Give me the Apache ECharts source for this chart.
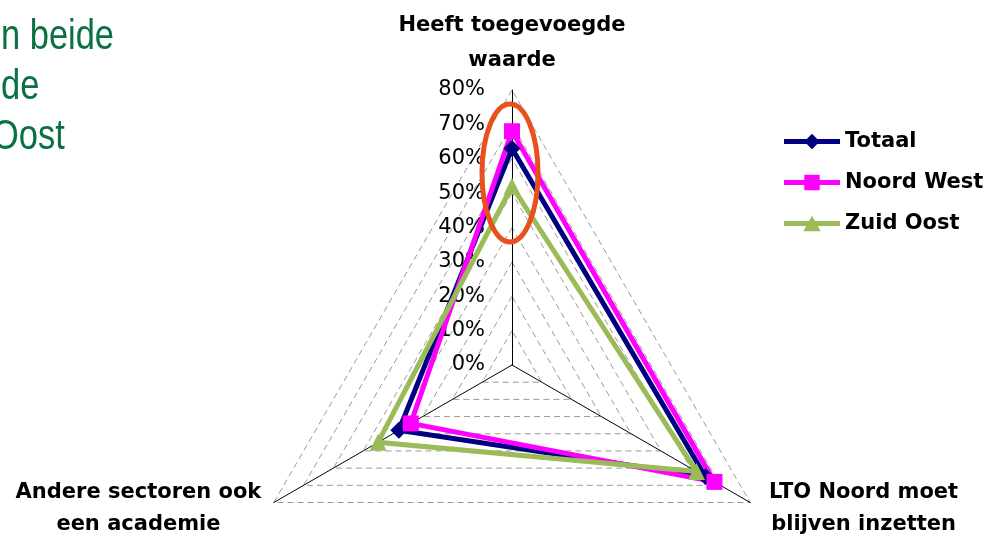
<!DOCTYPE html>
<html>
<head>
<meta charset="utf-8">
<script src="https://cdn.jsdelivr.net/npm/echarts@6/dist/echarts.min.js"></script>
<style>
  html, body { margin: 0; padding: 0; background: #fff; }
  #chart { width: 993px; height: 541px; }
</style>
</head>
<body>
<div id="chart"></div>
<script>
// assen (Excel gaat met de klok mee: boven, rechtsonder, linksonder -> ECharts tegen de klok in)
const indicators = [
  'Heeft toegevoegde\nwaarde',
  'Andere sectoren ook\neen academie',
  'LTO Noord moet\nblijven inzetten'
]
const seriesNames = ['Totaal', 'Noord West', 'Zuid Oost']
const totaal = [63, 38, 65]
const noordWest = [68, 34, 68]
const zuidOost = [52, 45, 62]
const tickMax = 80
const tickStep = 10
const titleLines = ['n beide', 'de', 'Oost']

const FONT = '"DejaVu Sans", Verdana, sans-serif'
const colors = { Totaal: '#000080', 'Noord West': '#FF00FF', 'Zuid Oost': '#9BBB59' }
const symbols = { Totaal: 'diamond', 'Noord West': 'rect', 'Zuid Oost': 'triangle' }
const values = { Totaal: totaal, 'Noord West': noordWest, 'Zuid Oost': zuidOost }

// legenda-icoon: lijn met marker, zoals Excel
const LINE = 'M0,5.5 H58 V10.5 H0 Z '
const legendIcons = {
  Totaal: 'path://' + LINE + 'M29,0 L37,8 L29,16 L21,8 Z',
  'Noord West': 'path://' + LINE + 'M21,0 H37 V16 H21 Z',
  'Zuid Oost': 'path://' + LINE + 'M29,0 L38,16 L20,16 Z'
}

const CX = 512, CY = 365, R = 275

// blokbreedte per asnaam, zodat de regels gecentreerd onder elkaar staan
const nameBlock = { 0: 260, 1: 250, 2: 206 }
const nameStyle = (w, lh) => ({
  width: w, align: 'center', lineHeight: lh,
  fontSize: 21, fontWeight: 'bold', fontFamily: FONT, color: '#000'
})

const chart = echarts.init(document.getElementById('chart'), null, { renderer: 'canvas' })

chart.setOption({
  backgroundColor: '#fff',
  animation: false,
  // verticale as alleen voor de %-labels langs de bovenste as
  grid: { left: CX, top: CY - R, width: 1, height: R },
  xAxis: { type: 'value', show: false },
  yAxis: {
    type: 'value',
    min: 0, max: tickMax, interval: tickStep,
    axisLine: { show: false },
    axisTick: { show: false },
    splitLine: { show: false },
    axisLabel: {
      formatter: '{value}%',
      color: '#000',
      fontSize: 21,
      fontFamily: FONT,
      margin: 27
    }
  },
  radar: {
    center: [CX, CY],
    radius: R,
    startAngle: 90,
    shape: 'polygon',
    splitNumber: tickMax / tickStep,
    nameGap: 12,
    indicator: indicators.map(n => ({ name: n, min: 0, max: tickMax })),
    axisName: {
      color: '#000',
      fontSize: 21,
      fontWeight: 'bold',
      fontFamily: FONT,
      formatter: name => {
        const k = 'n' + indicators.indexOf(name)
        return name.split('\n').map(l => '{' + k + '|' + l + '}').join('\n')
      },
      rich: {
        n0: nameStyle(nameBlock[0], 35),
        n1: nameStyle(nameBlock[1], 32),
        n2: nameStyle(nameBlock[2], 32)
      }
    },
    axisLine: { lineStyle: { color: '#000', width: 1 } },
    axisTick: { show: false },
    axisLabel: { show: false },
    splitLine: { lineStyle: { color: '#999', width: 1, type: [6, 4] } },
    splitArea: { show: false }
  },
  legend: {
    orient: 'vertical',
    left: 779,
    top: 126,
    itemWidth: 56,
    itemHeight: 16,
    itemGap: 20,
    textStyle: { color: '#000', fontSize: 21, fontWeight: 'bold', fontFamily: FONT, lineHeight: 20 },
    data: seriesNames.map(n => ({ name: n, icon: legendIcons[n], itemStyle: { color: colors[n] } }))
  },
  series: [{
    type: 'radar',
    data: seriesNames.map(n => ({
      name: n,
      value: values[n],
      symbol: symbols[n],
      symbolSize: n === 'Noord West' ? 16 : 17,
      lineStyle: { color: colors[n], width: 5, join: 'miter' },
      itemStyle: { color: colors[n] }
    }))
  }],
  graphic: [
    // rode ellips rond de bovenste as (annotatie uit de dia)
    {
      type: 'ellipse',
      shape: { cx: 510, cy: 173, rx: 28, ry: 69 },
      style: { fill: 'none', stroke: '#E8501E', lineWidth: 5 },
      z: 100
    },
    ...titleLines.map((t, i) => ({
      type: 'text',
      x: i === 2 ? -8 : 1,
      y: 37 + i * 50,
      scaleX: 0.82,
      style: {
        text: t,
        font: '42px "Liberation Sans Narrow", "Liberation Sans", Arial, sans-serif',
        fill: '#0A7242',
        verticalAlign: 'middle'
      }
    }))
  ]
})
</script>
</body>
</html>
